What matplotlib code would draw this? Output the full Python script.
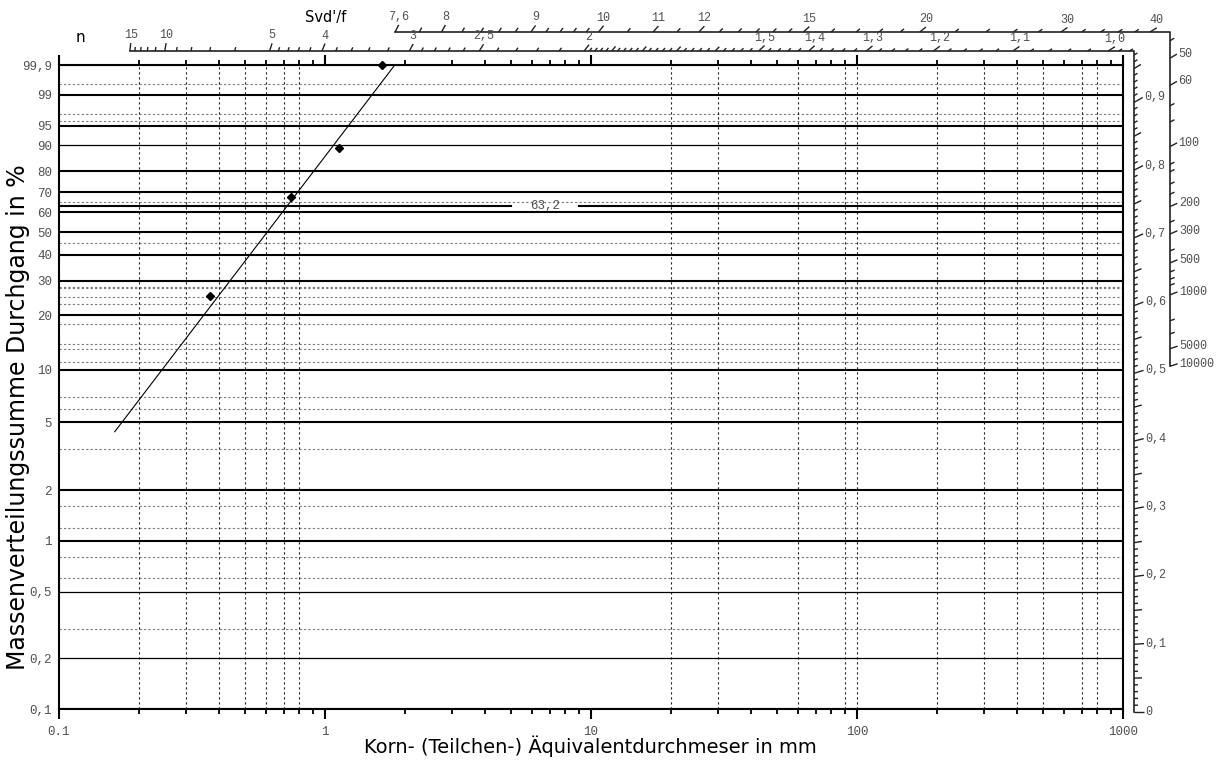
import numpy as np
import matplotlib.pyplot as plt
from matplotlib.collections import LineCollection
from matplotlib.ticker import NullFormatter, NullLocator

plt.rcParams["font.family"] = ["DejaVu Sans"]

MONO = "Liberation Mono"
GREY = "#505050"

size_mm = [0.37, 0.745, 1.13, 1.64]
passing_pct = [25.2, 67.6, 89.0, 99.9]
fit_size_mm = [0.162, 1.83]
fit_pct = [4.4, 99.9]

# Netzlinien des RRSB-Papiers
f_thick = [99.9, 99, 95, 80, 70, 60, 50, 40, 30, 20, 10, 5, 2, 1, 0.1]
f_thin = [90, 0.5, 0.2]
f_dotted = [99.5, 97, 96, 65, 45, 28, 27.6, 25, 23, 18, 14, 13, 11, 7, 6, 3.5,
            1.6, 1.2, 0.8, 0.6, 0.3]
f_ref = 63.2
f_ref_gap = [5.0, 9.0]
d_dotted = [0.2, 0.3, 0.4, 0.5, 0.6, 0.7, 0.8, 20, 30, 60, 90, 100, 200, 300,
            400, 500, 700, 800]

y_ticks = [99.9, 99, 95, 90, 80, 70, 60, 50, 40, 30, 20, 10, 5, 2, 1, 0.5, 0.2, 0.1]
y_labels = ["99,9", "99", "95", "90", "80", "70", "60", "50", "40", "30", "20",
            "10", "5", "2", "1", "0,5", "0,2", "0,1"]
x_ticks = [0.1, 1, 10, 100, 1000]
x_labels = ["0.1", "1", "10", "100", "1000"]

# Polskalen n und Svd'/f
n_major = [15, 10, 5, 4, 3, 2.5, 2, 1.5, 1.4, 1.3, 1.2, 1.1, 1.0]
n_major_text = ["15", "10", "5", "4", "3", "2,5", "2", "1,5", "1,4", "1,3",
                "1,2", "1,1", "1,0"]
n_mid = [1.6, 1.7, 1.8, 1.9]
n_right = [0.9, 0.8, 0.7, 0.6, 0.5, 0.4, 0.3, 0.2, 0.1, 0.0]
n_right_text = ["0,9", "0,8", "0,7", "0,6", "0,5", "0,4", "0,3", "0,2", "0,1", "0"]
svd_major = [7.6, 8, 9, 10, 11, 12, 15, 20, 30, 40, 50, 60, 100, 200, 300, 500,
             1000, 5000, 10000]
svd_minor = [7.8, 8.2, 8.4, 8.6, 8.8, 9.2, 9.4, 9.6, 9.8, 10.5, 11.5, 12.5, 13,
             13.5, 14, 14.5, 16, 17, 18, 19, 22, 24, 26, 28, 32, 34, 36, 38, 45,
             70, 80, 120, 130, 150, 170, 250, 400, 600, 700, 800, 2000, 3000]


def fwd(f):
    with np.errstate(divide="ignore", invalid="ignore"):
        return np.log10(-np.log(1 - np.asarray(f) / 100.0))


def inv(v):
    return 100.0 * (1 - np.exp(-(10.0 ** np.asarray(v))))


def svd_to_n(s):
    return np.sqrt(1.795 / np.log(s / 6.39))


fig = plt.figure(figsize=(12.26, 7.6), dpi=100)
AX_W, AX_H = 1064, 644
ax = fig.add_axes([59 / 1226, 51 / 760, AX_W / 1226, AX_H / 760])
ax.set_xscale("log")
ax.set_yscale("function", functions=(fwd, inv))
ax.set_xlim(0.1, 1000)
ax.set_ylim(0.1, 99.9)

# Netz
for f in f_thick:
    ax.axhline(f, color="black", lw=1.5, zorder=2)
for f in f_thin:
    ax.axhline(f, color="black", lw=0.9, zorder=2)
for f in f_dotted:
    ax.axhline(f, color="#7a7a7a", lw=0.8, ls=(0, (2, 2)), zorder=1)
for d in d_dotted:
    ax.axvline(d, color="#222222", lw=0.8, ls=(0, (2, 2.5)), zorder=1)
ax.plot([0.1, f_ref_gap[0]], [f_ref, f_ref], color="black", lw=1.5, zorder=2)
ax.plot([f_ref_gap[1], 1000], [f_ref, f_ref], color="black", lw=1.5, zorder=2)
ax.text(np.sqrt(f_ref_gap[0] * f_ref_gap[1]), f_ref, "63,2", ha="center",
        va="center", fontfamily=MONO, fontsize=9, color=GREY)

# Messpunkte und Ausgleichsgerade
ax.plot(fit_size_mm, fit_pct, color="black", lw=0.8, zorder=4)
ax.plot(size_mm, passing_pct, ls="none", marker="D", ms=4.5, color="black",
        zorder=5, clip_on=False)

# Achsen
for side in ["left", "bottom", "right", "top"]:
    ax.spines[side].set_linewidth(1.5)
ax.set_xticks(x_ticks, x_labels, fontfamily=MONO, fontsize=9, color=GREY)
ax.xaxis.set_minor_formatter(NullFormatter())
ax.tick_params(axis="x", which="major", direction="out", length=7, width=1.5,
               top=True, bottom=True, pad=5)
ax.tick_params(axis="x", which="minor", direction="out", length=3.6, width=1.3,
               top=True, bottom=True)
ax.set_yticks(y_ticks, y_labels, fontfamily=MONO, fontsize=9, color=GREY)
ax.yaxis.set_minor_locator(NullLocator())
ax.tick_params(axis="y", length=0, pad=5)

ax.set_xlabel("Korn- (Teilchen-) Äquivalentdurchmeser in mm", fontsize=14,
              va="center")
ax.xaxis.set_label_coords(0.499, -0.0575)
ax.set_ylabel("Massenverteilungssumme Durchgang in %", fontsize=17, va="center")
ax.yaxis.set_label_coords(-0.0385, 0.4534)

# Polkonstruktion: Strahl mit Steigung n durch den Pol
pole = (1 / AX_W, -3 / AX_H)
span_ratio = np.log10(1000 / 0.1) / (fwd(99.9) - fwd(0.1))
n_top, svd_top = 1 + 14 / AX_H, 1 + 33 / AX_H
n_rx, svd_rx = 1075 / AX_W, 1111 / AX_W


def ray_point(n, top, right):
    s = n * span_ratio
    if s > 0 and pole[0] + (top - pole[1]) / s <= right:
        return pole[0] + (top - pole[1]) / s, top, True
    return right, pole[1] + s * (right - pole[0]), False


def tick(n, top, right, length):
    x0, y0, on_top = ray_point(n, top, right)
    s = n * span_ratio
    norm = np.hypot(AX_W, AX_H * s)
    return [(x0, y0), (x0 + length / norm, y0 + length * s / norm)], on_top


def draw_scale(values, texts, top, right, length, minors):
    segs = []
    for v, ln in minors:
        segs.append(tick(v, top, right, ln)[0])
    for v, t in zip(values, texts):
        seg, on_top = tick(v, top, right, length)
        segs.append(seg)
        (xe, ye) = seg[1]
        if on_top:
            ax.text(xe, ye + 2 / AX_H, t, ha="center", va="bottom",
                    transform=ax.transAxes, fontfamily=MONO, fontsize=8.5,
                    color=GREY)
        else:
            ax.text(xe + 1.5 / AX_W, ye, t, ha="left", va="center",
                    transform=ax.transAxes, fontfamily=MONO, fontsize=8.5,
                    color=GREY)
    ax.add_collection(LineCollection(segs, colors="#222222", linewidths=1.0,
                                     transform=ax.transAxes, clip_on=False))


# Skala n
n_minor = []
for v in [14, 13, 12, 11, 9, 8, 7, 6]:
    n_minor.append((v, 4))
for v in np.round(np.arange(4.2, 5.0, 0.2), 2):
    n_minor.append((v, 4))
for v in np.round(np.arange(3.2, 4.0, 0.2), 2):
    n_minor.append((v, 4))
for v in np.round(np.arange(2.1, 3.0, 0.1), 2):
    if v != 2.5:
        n_minor.append((v, 4))
for v in np.round(np.arange(1.02, 2.0, 0.02), 2):
    if not np.isclose(v * 10, round(v * 10)):
        n_minor.append((v, 4))
for v in n_mid:
    n_minor.append((v, 6))
for v in np.round(np.arange(0.01, 1.0, 0.01), 2):
    if np.isclose(v * 10, round(v * 10)):
        continue
    n_minor.append((v, 8 if np.isclose(v * 20, round(v * 20)) else 4))

p15 = ray_point(n_major[0], n_top, n_rx)
p0 = ray_point(n_right[-1], n_top, n_rx)
ax.plot([p15[0], n_rx, n_rx], [n_top, n_top, p0[1]], color="#222222", lw=1.2,
        transform=ax.transAxes, clip_on=False)
draw_scale(n_major, n_major_text, n_top, n_rx, 8, n_minor)
draw_scale(n_right, n_right_text, n_top, n_rx, 10, [])

# Skala Svd'/f
svd_text = [f"{v:g}".replace(".", ",") for v in svd_major]
s_first = ray_point(svd_to_n(svd_major[0]), svd_top, svd_rx)
s_last = ray_point(svd_to_n(svd_major[-1]), svd_top, svd_rx)
ax.plot([s_first[0], svd_rx, svd_rx], [svd_top, svd_top, s_last[1]],
        color="#222222", lw=1.2, transform=ax.transAxes, clip_on=False)
draw_scale([svd_to_n(v) for v in svd_major], svd_text, svd_top, svd_rx, 8,
           [(svd_to_n(v), 5) for v in svd_minor])

fig.text(80 / 1226, 1 - 37.5 / 760, "n", ha="center", va="center", fontsize=11)
fig.text(326 / 1226, 1 - 17.5 / 760, "Svd'/f", ha="center", va="center",
         fontsize=10.5)

fig.savefig("out.png", dpi=100)
